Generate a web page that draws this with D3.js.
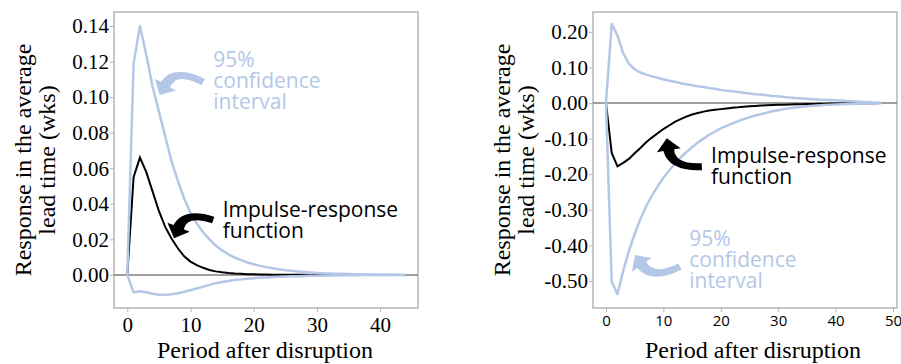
<!DOCTYPE html>
<html lang="en">
<head>
    <meta charset="utf-8">
    <title>Impulse-response functions</title>
    <style>
        body { margin: 0; background: #fff; }
    </style>
</head>
<body>
<script src="https://d3js.org/d3.v7.min.js"></script>
<script>

    // left panel: response to the disruption, positive effect
    var irfLeft = [0, 0.055, 0.066, 0.058, 0.047, 0.036, 0.027, 0.0205, 0.015, 0.0105,
        0.0075, 0.0055, 0.004, 0.0028, 0.002, 0.0015, 0.0011, 0.0008, 0.0006, 0.00045,
        0.00034, 0.00026, 0.0002, 0.00015, 0.00011, 0.00008, 0.00006, 0.00005, 0.00004, 0.00003,
        0.00002, 0.00002, 0.00001, 0.00001, 0.00001, 0, 0, 0, 0, 0,
        0, 0, 0, 0, 0];
    var upperLeft = [0, 0.119, 0.140, 0.124, 0.106, 0.092, 0.078, 0.064, 0.053, 0.043,
        0.035, 0.029, 0.024, 0.020, 0.0165, 0.0138, 0.0116, 0.0098, 0.0083, 0.007,
        0.006, 0.0051, 0.0044, 0.0038, 0.0032, 0.0027, 0.0023, 0.0019, 0.0016, 0.0013,
        0.0011, 0.0009, 0.0008, 0.0007, 0.0006, 0.0005, 0.0004, 0.00035, 0.0003, 0.00025,
        0.0002, 0.00015, 0.0001, 0.00005, 0];
    var lowerLeft = [0, -0.0098, -0.0092, -0.0097, -0.0106, -0.0111, -0.0112, -0.0109, -0.0103, -0.0095,
        -0.0086, -0.0076, -0.0066, -0.0056, -0.0047, -0.004, -0.0034, -0.0029, -0.0025, -0.0021,
        -0.0018, -0.0016, -0.0014, -0.0012, -0.001, -0.0009, -0.0008, -0.0007, -0.0006, -0.0005,
        -0.0004, -0.00035, -0.0003, -0.00025, -0.0002, -0.00016, -0.00013, -0.0001, -0.00008, -0.00006,
        -0.00004, -0.00003, -0.00002, -0.00001, 0];

    // right panel: negative effect
    var irfRight = [0, -0.14, -0.178, -0.168, -0.157, -0.141, -0.126, -0.110, -0.097, -0.085,
        -0.073, -0.063, -0.053, -0.045, -0.038, -0.032, -0.028, -0.024, -0.021, -0.019,
        -0.017, -0.015, -0.013, -0.012, -0.010, -0.009, -0.008, -0.007, -0.006, -0.0055,
        -0.005, -0.0045, -0.004, -0.0035, -0.003, -0.0026, -0.0023, -0.002, -0.0017, -0.0015,
        -0.0013, -0.0011, -0.0009, -0.0007, -0.0005, -0.0004, -0.0003, -0.0002, 0];
    var upperRight = [0, 0.222, 0.19, 0.14, 0.11, 0.095, 0.086, 0.080, 0.075, 0.071,
        0.067, 0.063, 0.060, 0.056, 0.053, 0.050, 0.047, 0.045, 0.042, 0.040,
        0.037, 0.035, 0.033, 0.031, 0.029, 0.027, 0.025, 0.024, 0.022, 0.020,
        0.019, 0.017, 0.016, 0.014, 0.013, 0.012, 0.011, 0.010, 0.009, 0.0085,
        0.0078, 0.007, 0.006, 0.005, 0.004, 0.003, 0.002, 0.001, 0];
    var lowerRight = [0, -0.502, -0.537, -0.472, -0.415, -0.368, -0.326, -0.29, -0.26, -0.234,
        -0.210, -0.19, -0.171, -0.153, -0.138, -0.124, -0.111, -0.100, -0.089, -0.080,
        -0.071, -0.064, -0.057, -0.051, -0.045, -0.040, -0.035, -0.031, -0.027, -0.023,
        -0.020, -0.017, -0.0145, -0.0125, -0.0107, -0.009, -0.0077, -0.0065, -0.0055, -0.0046,
        -0.0038, -0.0031, -0.0025, -0.0019, -0.0014, -0.001, -0.0006, -0.0003, 0];

    var xTicksLeft = [0, 10, 20, 30, 40];
    var yTicksLeft = [0, 0.02, 0.04, 0.06, 0.08, 0.10, 0.12, 0.14];
    var xTicksRight = [0, 10, 20, 30, 40, 50];
    var yTicksRight = [-0.5, -0.4, -0.3, -0.2, -0.1, 0, 0.1, 0.2];

    var xTitle = "Period after disruption";
    var yTitle = ["Response in the average", "lead time (wks)"];
    var ciLabel = ["95%", "confidence", "interval"];
    var irfLabel = ["Impulse-response", "function"];

    var ciColor = "#b4c7e7";
    var SERIF = '"Liberation Serif", "Times New Roman", Times, "DejaVu Serif", serif';
    var SANS = '"Open Sans", "Noto Sans", sans-serif';

    var svg = d3.select("body").append("svg")
        .attr("width", 901)
        .attr("height", 364);

    function fmt(d) {
        return d.toFixed(2);
    }

    function curvedArrow(g, tail, tip, bulge, wTail, wBody, headLen, headW, color) {
        var dx = tip[0] - tail[0], dy = tip[1] - tail[1];
        var len = Math.hypot(dx, dy);
        var nx = -dy / len, ny = dx / len;
        var c = [(tail[0] + tip[0]) / 2 + nx * bulge * 2, (tail[1] + tip[1]) / 2 + ny * bulge * 2];
        var tx = tip[0] - c[0], ty = tip[1] - c[1], tl = Math.hypot(tx, ty);
        tx /= tl; ty /= tl;
        var b = [tip[0] - tx * headLen, tip[1] - ty * headLen];
        var t0x = c[0] - tail[0], t0y = c[1] - tail[1], t0l = Math.hypot(t0x, t0y);
        var n0 = [-t0y / t0l, t0x / t0l];
        var n1 = [-ty, tx];
        var ncx = n0[0] + n1[0], ncy = n0[1] + n1[1], ncl = Math.hypot(ncx, ncy);
        var nc = [ncx / ncl, ncy / ncl];
        var wm = (wTail + wBody) / 2;
        function p(pt, n, w) { return (pt[0] + n[0] * w) + "," + (pt[1] + n[1] * w); }
        var d = "M" + p(tail, n0, wTail / 2)
            + "Q" + p(c, nc, wm / 2) + " " + p(b, n1, wBody / 2)
            + "L" + p(b, n1, headW / 2)
            + "L" + tip[0] + "," + tip[1]
            + "L" + p(b, n1, -headW / 2)
            + "L" + p(b, n1, -wBody / 2)
            + "Q" + p(c, nc, -wm / 2) + " " + p(tail, n0, -wTail / 2)
            + "Z";
        g.append("path").attr("d", d).attr("fill", color);
    }

    function drawPanel(o) {
        var x = d3.scaleLinear().domain(o.xDomain).range([o.left, o.right]);
        var y = d3.scaleLinear().domain(o.yDomain).range([o.bottom, o.top]);
        var g = svg.append("g");

        // frame
        g.append("rect")
            .attr("x", o.left)
            .attr("y", o.top)
            .attr("width", o.right - o.left)
            .attr("height", o.bottom - o.top)
            .attr("fill", "none")
            .attr("stroke", "#b5b5b5")
            .attr("stroke-width", 1.5);

        var yAxis = g.append("g")
            .attr("transform", "translate(" + o.left + ",0)")
            .call(d3.axisLeft(y).tickValues(o.yTicks).tickFormat(fmt).tickSize(4).tickPadding(1));
        yAxis.select(".domain").remove();
        yAxis.selectAll("line").attr("stroke", "#b5b5b5");
        yAxis.selectAll("text")
            .style("font-family", SERIF)
            .style("font-size", "21px")
            .attr("fill", "#000");

        var xAxis = g.append("g")
            .attr("transform", "translate(0," + o.bottom + ")")
            .call(d3.axisBottom(x).tickValues(o.xTicks).tickFormat(d3.format("d")).tickSize(4).tickPadding(o.xPad));
        xAxis.select(".domain").remove();
        xAxis.selectAll("line").attr("stroke", "#b5b5b5");
        xAxis.selectAll("text")
            .style("font-family", o.xFont)
            .style("font-size", o.xSize)
            .attr("fill", "#000");

        // zero line
        g.append("line")
            .attr("x1", o.left)
            .attr("x2", o.right)
            .attr("y1", y(0))
            .attr("y2", y(0))
            .attr("stroke", "#808080")
            .attr("stroke-width", 1.5);

        var line = d3.line()
            .x(function (d, i) { return x(i); })
            .y(function (d) { return y(d); });

        g.append("path").attr("d", line(o.irf))
            .attr("fill", "none").attr("stroke", "#000").attr("stroke-width", 2);
        [o.upper, o.lower].forEach(function (s) {
            g.append("path").attr("d", line(s))
                .attr("fill", "none").attr("stroke", ciColor).attr("stroke-width", 2.5)
                .attr("stroke-linejoin", "round");
        });

        // axis titles
        g.append("text")
            .attr("x", o.xTitleX)
            .attr("y", 358)
            .attr("text-anchor", "middle")
            .style("font-family", SERIF)
            .style("font-size", "24px")
            .text(xTitle);
        var yt = g.append("text")
            .attr("transform", "translate(" + o.yTitleX + "," + ((o.top + o.bottom) / 2) + ") rotate(-90)")
            .attr("text-anchor", "middle")
            .style("font-family", SERIF)
            .style("font-size", "24px");
        yTitle.forEach(function (t, i) {
            yt.append("tspan").attr("x", 0).attr("y", i * 24).text(t);
        });

        // annotations
        function label(lines, pos, color) {
            var t = g.append("text")
                .attr("x", x(pos[0]))
                .attr("y", y(pos[1]))
                .attr("fill", color)
                .style("font-family", SANS)
                .style("font-size", "21px");
            lines.forEach(function (s, i) {
                t.append("tspan").attr("x", x(pos[0])).attr("dy", i === 0 ? 0 : 21).text(s);
            });
        }
        label(ciLabel, o.ciText, ciColor);
        label(irfLabel, o.irfText, "#000");
        var a = o.ciArrow;
        curvedArrow(g, [x(a[0]), y(a[1])], [x(a[2]), y(a[3])], a[4], 7, 11, 12, 24, ciColor);
        a = o.irfArrow;
        curvedArrow(g, [x(a[0]), y(a[1])], [x(a[2]), y(a[3])], a[4], 7, 11, 12, 24, "#000");
    }

    drawPanel({
        left: 114, right: 418, top: 12, bottom: 308,
        xDomain: [-2.1, 46], yDomain: [-0.0186, 0.1479],
        xTicks: xTicksLeft, yTicks: yTicksLeft,
        xFont: SERIF, xSize: "21px", xPad: 5,
        irf: irfLeft, upper: upperLeft, lower: lowerLeft,
        xTitleX: 265, yTitleX: 31,
        ciText: [13.6, 0.117], irfText: [15.1, 0.0327],
        ciArrow: [12.0, 0.1085, 5.1, 0.1012, 11],
        irfArrow: [13.6, 0.0309, 7.4, 0.0206, 10]
    });

    drawPanel({
        left: 593, right: 897, top: 12, bottom: 308,
        xDomain: [-2.26, 50.7], yDomain: [-0.576, 0.256],
        xTicks: xTicksRight, yTicks: yTicksRight,
        xFont: SANS, xSize: "15px", xPad: 3,
        irf: irfRight, upper: upperRight, lower: lowerRight,
        xTitleX: 753, yTitleX: 510,
        ciText: [14.5, -0.401], irfText: [18.3, -0.1695],
        ciArrow: [12.9, -0.46, 5.05, -0.427, -10],
        irfArrow: [16.7, -0.179, 10.6, -0.0992, -10]
    });

</script>
</body>
</html>
